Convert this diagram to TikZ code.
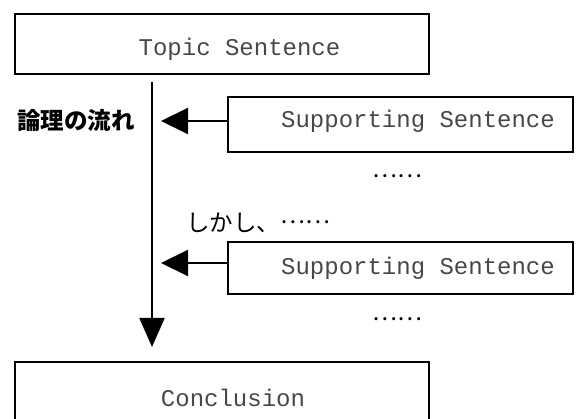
\documentclass[tikz,border=0pt]{standalone}
\usepackage{fontspec}
\setmonofont{Liberation Mono}
\newfontfamily\cjk{Noto Sans CJK JP}
\usetikzlibrary{arrows.meta}
\newcommand{\middots}{\raisebox{0.33em}{……}}
\begin{document}
\begin{tikzpicture}[x=1pt,y=-1pt,
  box/.style={draw, line width=2pt, inner sep=0pt, outer sep=0pt, anchor=north west},
  mono/.style={font=\ttfamily\fontsize{24}{24}\selectfont, inner sep=0pt, anchor=base, text=black!72},
  jp/.style={font=\cjk\fontsize{23.5}{24}\selectfont, inner sep=0pt},
  flow/.style={line width=2pt, -{Triangle[length=29pt,width=25pt]}},
  feed/.style={line width=2pt, -{Triangle[length=27pt,width=26pt]}}]
\useasboundingbox (0,0) rectangle (576,419);
% boxes
\node[box, minimum width=414pt, minimum height=60pt] (topic) at (15,14) {};
\node[box, minimum width=345pt, minimum height=55pt] (s1) at (228,97) {};
\node[box, minimum width=345pt, minimum height=52pt] (s2) at (228,242) {};
\node[box, minimum width=414pt, minimum height=60pt] (concl) at (15,362) {};
% texts
\node[mono] (ttopic) at (239.5,56) {Topic Sentence};
\node[mono] (ts1) at (418,128) {Supporting Sentence};
\node[mono] (ts2) at (418,275) {Supporting Sentence};
\node[mono] (tconcl) at (233,406.5) {Conclusion};
\node[jp, font=\cjk\bfseries\fontsize{23.5}{24}\selectfont] (flowlabel) at (76,121) {論理の流れ};
\node[jp, anchor=west] (however) at (186,223) {しかし、\middots};
\node[jp] (dots1) at (397.5,176) {……};
\node[jp] (dots2) at (397.5,319) {……};
% connectors
\coordinate (vtop) at (152,82);
\coordinate (vend) at (152,347);
\draw[flow] (vtop) -- (vend);
\coordinate (h1) at (161,121);
\coordinate (h2) at (161,263);
\draw[feed] (s1.west |- h1) -- (h1);
\draw[feed] (s2.west |- h2) -- (h2);
\end{tikzpicture}
\end{document}
